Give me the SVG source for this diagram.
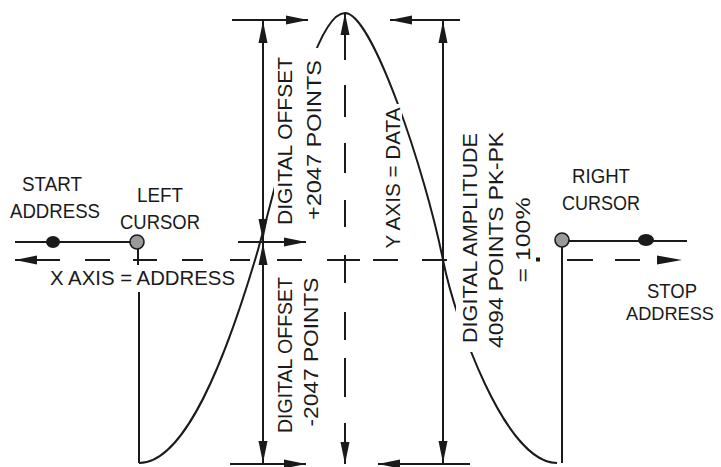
<svg xmlns="http://www.w3.org/2000/svg" width="721" height="467" viewBox="0 0 721 467">
<style>
.ln{stroke:#1a1a1a;stroke-width:2;fill:none}
.t{font-family:"Liberation Sans",Arial,sans-serif;font-size:21px;fill:#1a1a1a}
.r{text-anchor:middle}
.cur{fill:#9a9a9a;stroke:#1a1a1a;stroke-width:1.6}
.dot{fill:#1a1a1a}
</style>
<defs>
<marker id="ah" markerUnits="userSpaceOnUse" markerWidth="22" markerHeight="10" refX="22" refY="5" orient="auto-start-reverse" viewBox="0 0 22 10"><path d="M0,0.5 L22,5 L0,9.5 z" fill="#1a1a1a"/></marker>
<mask id="cm" maskUnits="userSpaceOnUse" x="0" y="0" width="721" height="467">
<rect width="721" height="467" fill="#fff"/>
<rect x="274" y="48" width="52" height="178" fill="#000"/>
<rect x="380" y="104" width="22" height="150" fill="#000"/>
<rect x="456" y="120" width="80" height="232" fill="#000"/>
</mask>
</defs>
<rect width="721" height="467" fill="#fff"/>
<g id="connectors">
<g id="curve"><path class="ln" mask="url(#cm)" d="M139,463 C185,463 225,360 255,260 C280,177 312,13 345,13 C372,13 425,170 443,260 C455,320 505,463 557,463"/></g>
<g id="x-axis" class="ln">
<line x1="60" y1="260" x2="15" y2="260" marker-end="url(#ah)"/>
<path d="M85,260H110M133,260H157M182,260H203M230,260H250M277,260H302M327,260H360M373,260H398M422,260H447M567,260H593M615,260H640"/>
<rect x="536" y="257.5" width="4" height="4" fill="#1a1a1a" stroke="none"/>
<path d="M657,255.5 L682,260 L657,264.5 z" fill="#1a1a1a" stroke="none"/>
</g>
<g id="y-axis" class="ln">
<line x1="345" y1="60" x2="345" y2="13" marker-end="url(#ah)"/>
<path d="M345,85V117M345,143V173M345,200V227M345,255V283M345,312V340M345,358V397"/>
<line x1="345" y1="423" x2="345" y2="464" marker-end="url(#ah)"/>
</g>
<g id="offset-dims" class="ln">
<line x1="232" y1="20" x2="308" y2="20" marker-end="url(#ah)"/>
<line x1="263" y1="21" x2="263" y2="241" marker-start="url(#ah)" marker-end="url(#ah)"/>
<line x1="238" y1="242" x2="306" y2="242" marker-end="url(#ah)"/>
<line x1="263" y1="243" x2="263" y2="463" marker-start="url(#ah)" marker-end="url(#ah)"/>
<line x1="230" y1="464" x2="306" y2="464" marker-end="url(#ah)"/>
</g>
<g id="amplitude-dim" class="ln">
<line x1="460" y1="20" x2="390" y2="20" marker-end="url(#ah)"/>
<line x1="443" y1="21" x2="443" y2="463" marker-start="url(#ah)" marker-end="url(#ah)"/>
<line x1="470" y1="464" x2="378" y2="464" marker-end="url(#ah)"/>
</g>
<g id="cursor-lines" class="ln">
<line x1="15" y1="242" x2="137" y2="242"/>
<line x1="138" y1="248" x2="138" y2="265"/>
<line x1="139" y1="292" x2="139" y2="463"/>
<line x1="562" y1="241" x2="687" y2="241"/>
<line x1="562" y1="247" x2="562" y2="463"/>
</g>
</g>
<g id="start-address"><ellipse class="dot" cx="53" cy="242" rx="7" ry="6"/>
<text class="t" x="22" y="191" textLength="60" lengthAdjust="spacingAndGlyphs">START</text>
<text class="t" x="10" y="218" textLength="90" lengthAdjust="spacingAndGlyphs">ADDRESS</text></g>
<g id="left-cursor"><circle class="cur" cx="137" cy="242" r="7"/>
<text class="t" x="137" y="202" textLength="46" lengthAdjust="spacingAndGlyphs">LEFT</text>
<text class="t" x="120" y="229" textLength="80" lengthAdjust="spacingAndGlyphs">CURSOR</text></g>
<g id="x-axis-label"><text class="t" x="50" y="285" textLength="185" lengthAdjust="spacingAndGlyphs">X AXIS = ADDRESS</text></g>
<g id="right-cursor"><circle class="cur" cx="562" cy="240" r="7"/>
<text class="t" x="572" y="183" textLength="58" lengthAdjust="spacingAndGlyphs">RIGHT</text>
<text class="t" x="562" y="210" textLength="78" lengthAdjust="spacingAndGlyphs">CURSOR</text></g>
<g id="stop-address"><ellipse class="dot" cx="646" cy="240" rx="8" ry="6"/>
<text class="t" x="647" y="298" textLength="50" lengthAdjust="spacingAndGlyphs">STOP</text>
<text class="t" x="626" y="320" style="font-size:19px" textLength="88" lengthAdjust="spacingAndGlyphs">ADDRESS</text></g>
<g id="offset-plus"><text class="t r" transform="translate(292,141) rotate(-90)" textLength="168" lengthAdjust="spacingAndGlyphs">DIGITAL OFFSET</text>
<text class="t r" transform="translate(321,140) rotate(-90)" textLength="160" lengthAdjust="spacingAndGlyphs">+2047 POINTS</text></g>
<g id="offset-minus"><text class="t r" transform="translate(292,355) rotate(-90)" textLength="156" lengthAdjust="spacingAndGlyphs">DIGITAL OFFSET</text>
<text class="t r" transform="translate(318,352) rotate(-90)" textLength="149" lengthAdjust="spacingAndGlyphs">-2047 POINTS</text></g>
<g id="y-axis-label"><text class="t r" transform="translate(400,178) rotate(-90)" textLength="141" lengthAdjust="spacingAndGlyphs">Y AXIS = DATA</text></g>
<g id="amplitude"><text class="t r" transform="translate(477,238) rotate(-90)" textLength="210" lengthAdjust="spacingAndGlyphs">DIGITAL AMPLITUDE</text>
<text class="t r" transform="translate(503,240) rotate(-90)" textLength="216" lengthAdjust="spacingAndGlyphs">4094 POINTS PK-PK</text>
<text class="t r" transform="translate(530,240) rotate(-90)" textLength="85" lengthAdjust="spacingAndGlyphs">= 100%</text></g>
</svg>
